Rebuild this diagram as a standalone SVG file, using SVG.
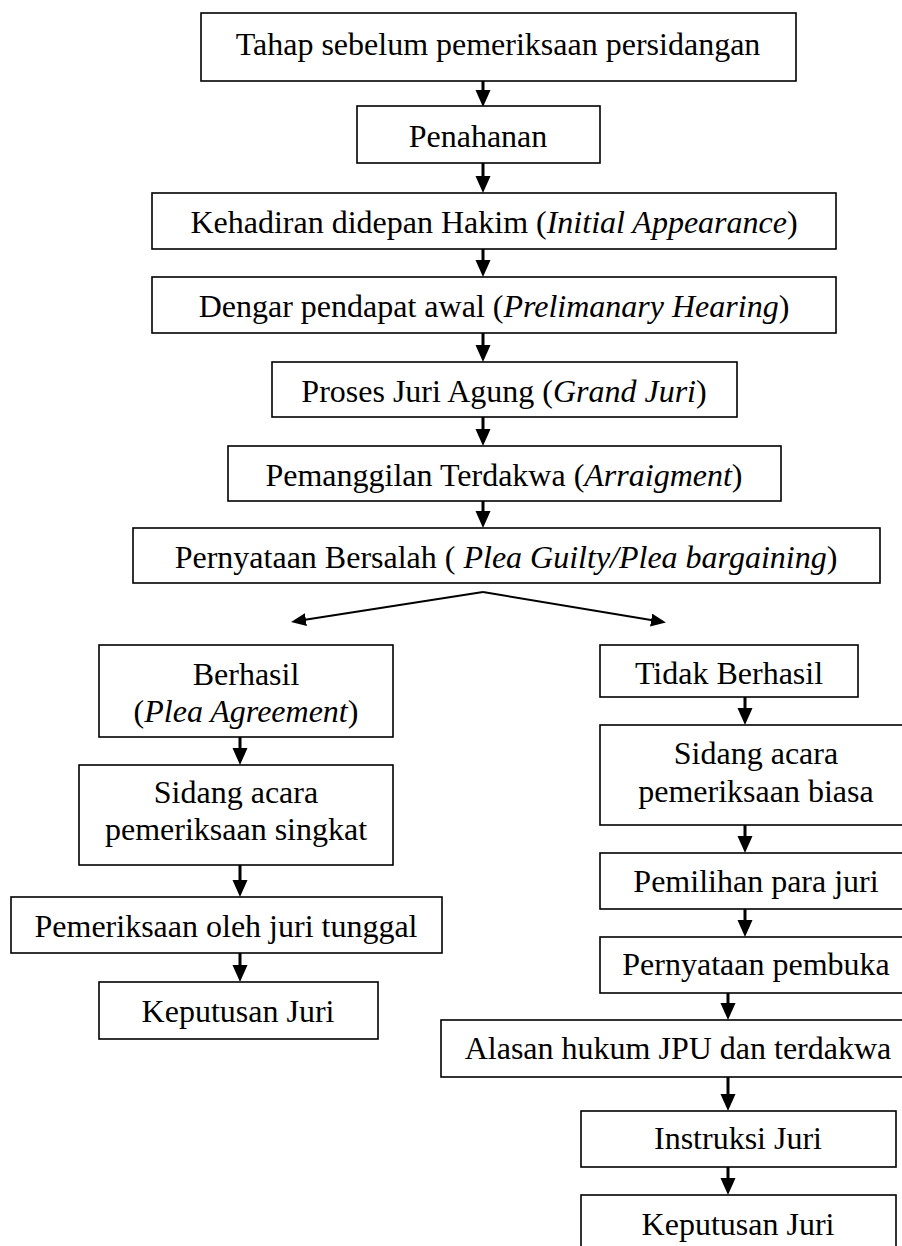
<svg xmlns="http://www.w3.org/2000/svg" width="902" height="1246" viewBox="0 0 902 1246">
<style>
.box{fill:#fff;stroke:#000;stroke-width:1.6}
.t{font-family:"Liberation Serif","Times New Roman",serif;font-size:32px;fill:#000;text-anchor:middle}
.i{font-style:italic}
.c{stroke:#000;stroke-width:3;fill:none}
.d{stroke:#000;stroke-width:2;fill:none}
</style>
<defs>
<marker id="ah" markerUnits="userSpaceOnUse" markerWidth="18" markerHeight="16" refX="9" refY="7.5" orient="auto" viewBox="0 0 18 16">
<path d="M0,0 L17,7.5 L0,15 z" fill="#000"/>
</marker>
<marker id="ah2" markerUnits="userSpaceOnUse" markerWidth="16" markerHeight="14" refX="9" refY="6.5" orient="auto" viewBox="0 0 16 14">
<path d="M0,0 L15,6.5 L0,13 z" fill="#000"/>
</marker>
</defs>
<rect width="902" height="1246" fill="#fff"/>
<g id="connectors">
<line class="c" x1="483" y1="81" x2="483" y2="99" marker-end="url(#ah)"/>
<line class="c" x1="483" y1="163" x2="483" y2="185" marker-end="url(#ah)"/>
<line class="c" x1="483" y1="249" x2="483" y2="269" marker-end="url(#ah)"/>
<line class="c" x1="483" y1="333" x2="483" y2="354" marker-end="url(#ah)"/>
<line class="c" x1="483" y1="417" x2="483" y2="438" marker-end="url(#ah)"/>
<line class="c" x1="483" y1="501" x2="483" y2="520" marker-end="url(#ah)"/>
<line class="d" x1="483" y1="592" x2="297" y2="621" marker-end="url(#ah2)"/>
<line class="d" x1="483" y1="592" x2="660" y2="621.5" marker-end="url(#ah2)"/>
<line class="c" x1="240" y1="737" x2="240" y2="757" marker-end="url(#ah)"/>
<line class="c" x1="240" y1="865" x2="240" y2="889" marker-end="url(#ah)"/>
<line class="c" x1="240" y1="953" x2="240" y2="974" marker-end="url(#ah)"/>
<line class="c" x1="745" y1="697" x2="745" y2="717" marker-end="url(#ah)"/>
<line class="c" x1="745" y1="825" x2="745" y2="845" marker-end="url(#ah)"/>
<line class="c" x1="745" y1="909" x2="745" y2="929" marker-end="url(#ah)"/>
<line class="c" x1="728" y1="993" x2="728" y2="1012" marker-end="url(#ah)"/>
<line class="c" x1="728" y1="1077" x2="728" y2="1103" marker-end="url(#ah)"/>
<line class="c" x1="728" y1="1167" x2="728" y2="1187" marker-end="url(#ah)"/>
</g>
<g id="n1"><rect class="box" x="201" y="13" width="595" height="68"/><text class="t" x="498" y="55">Tahap sebelum pemeriksaan persidangan</text></g>
<g id="n2"><rect class="box" x="357" y="106" width="243" height="57"/><text class="t" x="478" y="147">Penahanan</text></g>
<g id="n3"><rect class="box" x="152" y="193" width="684" height="56"/><text class="t" x="494" y="233">Kehadiran didepan Hakim (<tspan class="i">Initial Appearance</tspan>)</text></g>
<g id="n4"><rect class="box" x="152" y="277" width="684" height="56"/><text class="t" x="494" y="317">Dengar pendapat awal (<tspan class="i">Prelimanary Hearing</tspan>)</text></g>
<g id="n5"><rect class="box" x="272" y="362" width="465" height="55"/><text class="t" x="504" y="402">Proses Juri Agung (<tspan class="i">Grand Juri</tspan>)</text></g>
<g id="n6"><rect class="box" x="228" y="446" width="553" height="55"/><text class="t" x="504" y="486">Pemanggilan Terdakwa (<tspan class="i">Arraigment</tspan>)</text></g>
<g id="n7"><rect class="box" x="133" y="528" width="747" height="55"/><text class="t" x="506" y="568">Pernyataan Bersalah ( <tspan class="i">Plea Guilty/Plea bargaining</tspan>)</text></g>
<g id="n8"><rect class="box" x="99" y="645" width="294" height="92"/><text class="t" x="246" y="685">Berhasil</text><text class="t" x="246" y="722">(<tspan class="i">Plea Agreement</tspan>)</text></g>
<g id="n9"><rect class="box" x="79" y="765" width="314" height="100"/><text class="t" x="236" y="803">Sidang acara</text><text class="t" x="236" y="840">pemeriksaan singkat</text></g>
<g id="n10"><rect class="box" x="11" y="897" width="431" height="56"/><text class="t" x="226" y="937">Pemeriksaan oleh juri tunggal</text></g>
<g id="n11"><rect class="box" x="99" y="982" width="279" height="57"/><text class="t" x="238" y="1022">Keputusan Juri</text></g>
<g id="n12"><rect class="box" x="600" y="645" width="258" height="52"/><text class="t" x="729" y="684">Tidak Berhasil</text></g>
<g id="n13"><rect class="box" x="600" y="725" width="312" height="100"/><text class="t" x="756" y="764">Sidang acara</text><text class="t" x="756" y="802">pemeriksaan biasa</text></g>
<g id="n14"><rect class="box" x="600" y="853" width="312" height="56"/><text class="t" x="756" y="892">Pemilihan para juri</text></g>
<g id="n15"><rect class="box" x="600" y="937" width="312" height="56"/><text class="t" x="756" y="975">Pernyataan pembuka</text></g>
<g id="n16"><rect class="box" x="441" y="1020" width="474" height="57"/><text class="t" x="678" y="1059">Alasan hukum JPU dan terdakwa</text></g>
<g id="n17"><rect class="box" x="581" y="1111" width="315" height="56"/><text class="t" x="738" y="1149">Instruksi Juri</text></g>
<g id="n18"><rect class="box" x="581" y="1195" width="315" height="60"/><text class="t" x="738" y="1235">Keputusan Juri</text></g>
</svg>
